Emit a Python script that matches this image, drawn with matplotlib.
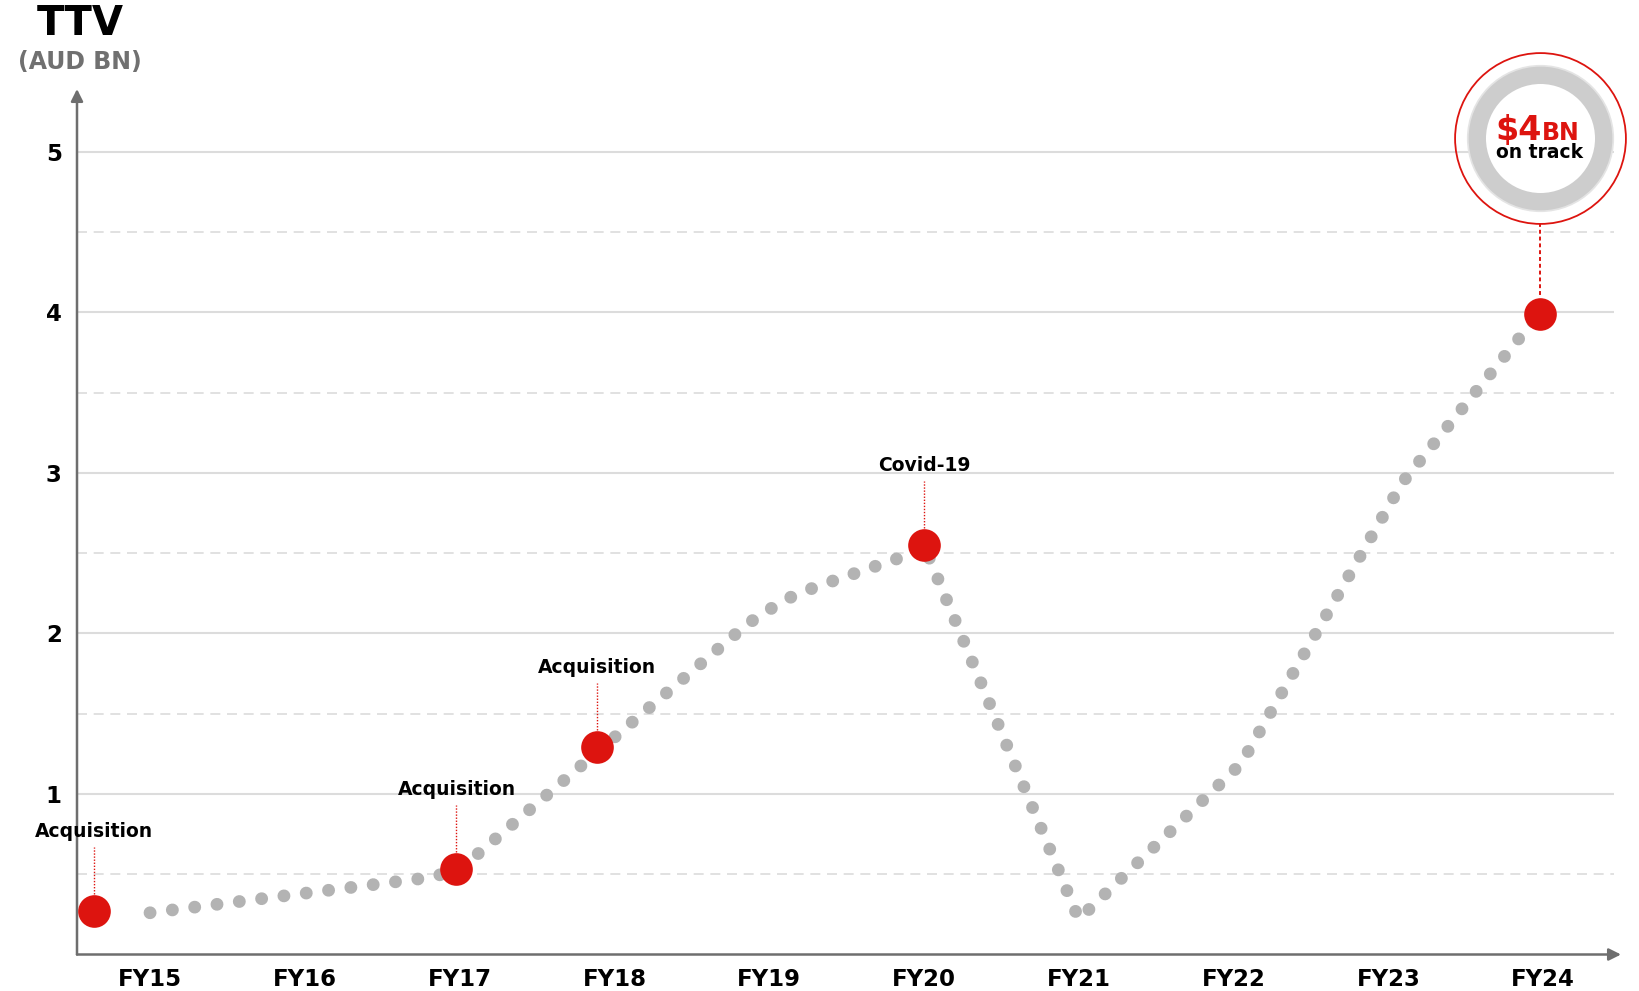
import numpy as np
import matplotlib.pyplot as plt

# financial years along the x axis
years = ['FY15', 'FY16', 'FY17', 'FY18', 'FY19', 'FY20', 'FY21', 'FY22', 'FY23', 'FY24']

# TTV trend line (AUD bn), vertices of the dotted path
trend_x = [0.0, 1.81, 2.0, 3.86, 4.1, 4.3, 4.9, 5.0, 6.0, 7.05, 8.09, 8.98]
trend_ttv = [0.26, 0.48, 0.53, 2.06, 2.21, 2.29, 2.49, 2.55, 0.22, 1.19, 2.94, 4.0]

# highlighted events
event_x = [-0.36, 1.98, 2.89, 5.0, 8.98]
event_ttv = [0.27, 0.53, 1.29, 2.55, 3.99]
event_labels = ['Acquisition', 'Acquisition', 'Acquisition', 'Covid-19', None]

solid_levels = [1, 2, 3, 4, 5]
dashed_levels = [0.5, 1.5, 2.5, 3.5, 4.5]

RED = '#DD140F'
DOT = '#B3B3B3'
AXIS = '#6E6E6E'
GRID = '#DCDCDC'

plt.rcParams['font.family'] = ['DejaVu Sans']

W, H = 1640, 991
fig = plt.figure(figsize=(W / 100, H / 100), dpi=100)

# axes box in pixels: x from 77 to 1621, y from 89 (top) to 954.5 (bottom)
ax_l, ax_r, ax_t, ax_b = 77, 1621, 89, 954.5
ax = fig.add_axes([ax_l / W, (H - ax_b) / H, (ax_r - ax_l) / W, (ax_b - ax_t) / H])
xmin, xmax = -0.4716, 9.503
ymin, ymax = 0, 5.392
ax.set_xlim(xmin, xmax)
ax.set_ylim(ymin, ymax)
v_per_px = (ymax - ymin) / (ax_b - ax_t)

for s in ax.spines.values():
    s.set_visible(False)

# grid
ax.hlines(solid_levels, xmin, 9.46, colors=GRID, lw=1.5, zorder=1)
ax.hlines(dashed_levels, xmin, 9.46, colors=GRID, lw=1.2,
          linestyles=[(0, (6, 4))], zorder=1)

# axes with arrow heads
arrow = dict(arrowstyle='-|>', color=AXIS, lw=1.8, mutation_scale=18,
             shrinkA=0, shrinkB=0)
ax.annotate('', xy=(1, 0), xytext=(0, 0), xycoords='axes fraction',
            arrowprops=arrow, annotation_clip=False)
ax.annotate('', xy=(0, 1), xytext=(0, 0), xycoords='axes fraction',
            arrowprops=arrow, annotation_clip=False)

# dotted TTV line
ax.plot(trend_x, trend_ttv, color=DOT, lw=9.2, linestyle=(0, (0.01, 1.75)),
        dash_capstyle='round', zorder=3)

# event markers and labels
ax.plot(event_x, event_ttv, 'o', ms=23.5, color=RED, mec='none', zorder=5,
        clip_on=False)
for x, v, lab in zip(event_x, event_ttv, event_labels):
    if lab is None:
        continue
    ax.plot([x, x], [v + 17 * v_per_px, v + 64 * v_per_px], color=RED, lw=1,
            linestyle=(0, (1, 1.2)), zorder=4)
    ax.text(x, v + 80 * v_per_px, lab, ha='center', va='center',
            fontsize=13.5, fontweight='bold', color='black', zorder=6)

# $4BN badge above the last point
bx = event_x[-1]
bv = (ax_b - 137.5) * v_per_px
ax.plot([bx, bx], [(ax_b - 223) * v_per_px, event_ttv[-1] + 17 * v_per_px],
        color=RED, lw=1.4, linestyle=(0, (2, 1.5)), zorder=4, clip_on=False)
ax.plot(bx, bv, 'o', ms=123, mfc='none', mec=RED, mew=1.3, zorder=6, clip_on=False)
ax.plot(bx, bv, 'o', ms=104, mfc='white', mec='#E4E4E4', mew=2, zorder=6, clip_on=False)
ax.plot(bx, bv, 'o', ms=91, mfc='white', mec='#CDCDCD', mew=12.5, zorder=7, clip_on=False)
ax.annotate(r'\$4', xy=(bx, bv), xytext=(1, -1.5), textcoords='offset points',
            ha='right', va='baseline', fontsize=24, fontweight='bold',
            color=RED, zorder=8, annotation_clip=False)
ax.annotate('BN', xy=(bx, bv), xytext=(1, -1.5), textcoords='offset points',
            ha='left', va='baseline', fontsize=17, fontweight='bold',
            color=RED, zorder=8, annotation_clip=False)
ax.annotate('on track', xy=(bx, bv), xytext=(0, -15), textcoords='offset points',
            ha='center', va='baseline', fontsize=13.5, fontweight='bold',
            color='black', zorder=8, annotation_clip=False)

# ticks
ax.set_xticks(np.arange(len(years)))
ax.set_xticklabels(years, fontsize=16.5, fontweight='bold')
ax.set_yticks(solid_levels)
ax.set_yticklabels([str(l) for l in solid_levels], fontsize=16.5, fontweight='bold')
ax.tick_params(axis='both', length=0)
ax.tick_params(axis='x', pad=10)
ax.tick_params(axis='y', pad=11)

# axis title
fig.text(80 / W, 1 - 24 / H, 'TTV', ha='center', va='center', fontsize=29,
         fontweight='heavy', color='black')
fig.text(80 / W, 1 - 62 / H, '(AUD BN)', ha='center', va='center', fontsize=17,
         fontweight='bold', color='#707070')

fig.savefig('out.png', dpi=100, facecolor='white')
